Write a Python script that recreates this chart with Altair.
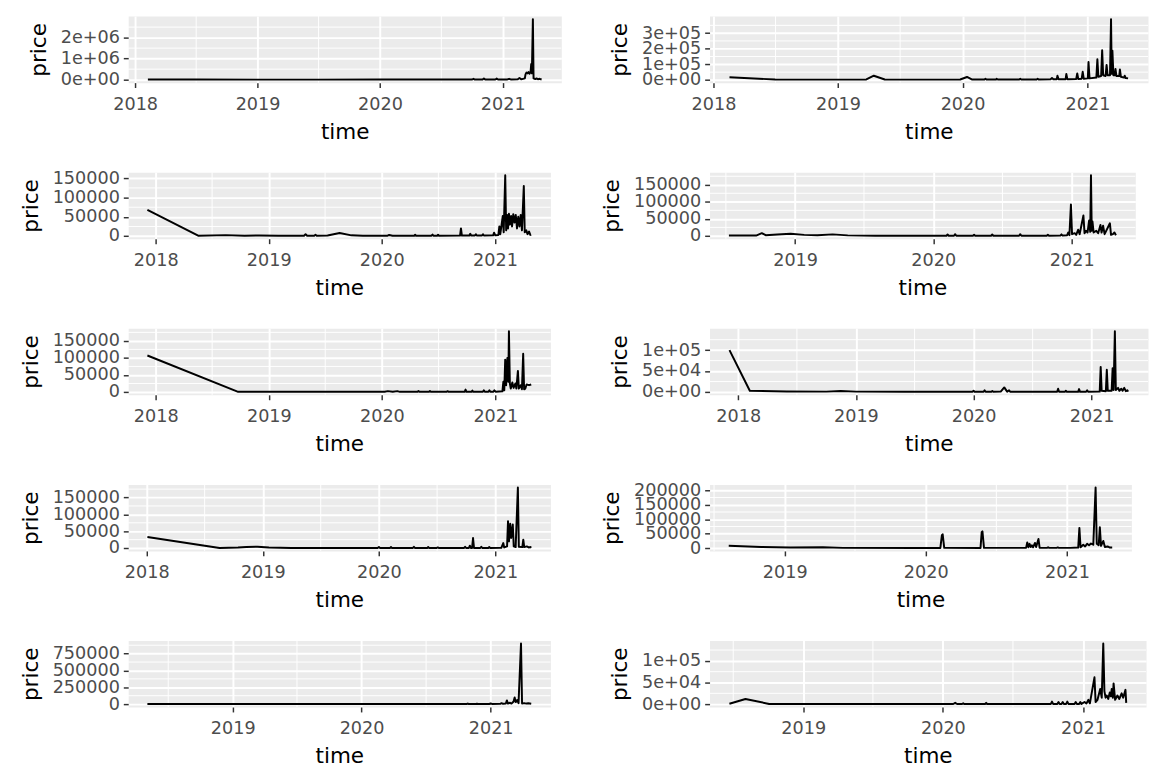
import altair as alt
import pandas as pd
from datetime import datetime, timezone

# ---------------- data ----------------
p1_dates = ["2018-02-08","2018-07-01","2019-01-01","2019-07-01","2020-01-01","2020-07-01","2020-10-01","2020-10-06","2020-10-10","2020-11-02",
            "2020-11-06","2020-11-10","2020-12-10","2020-12-14","2020-12-18","2021-01-15","2021-01-20","2021-01-25","2021-02-15","2021-02-20",
            "2021-02-25","2021-03-08","2021-03-10","2021-03-13","2021-03-16","2021-03-19","2021-03-22","2021-03-25","2021-03-27","2021-03-29",
            "2021-04-01","2021-04-03","2021-04-08","2021-04-12","2021-04-16","2021-04-21","2021-04-27"]
p1_prices = [6000,3000,2000,2000,3000,3000,4000,40000,5000,6000,
             60000,6000,8000,50000,8000,10000,40000,10000,20000,80000,
             15000,60000,250000,340000,300000,360000,280000,350000,740000,300000,
             2880000,60000,30000,60000,20000,40000,10000]

p2_dates = ["2018-02-17","2018-04-01","2018-07-01","2018-10-01","2019-01-01","2019-03-25","2019-04-16","2019-05-18","2019-09-01","2019-12-25",
            "2020-01-14","2020-01-28","2020-03-05","2020-03-08","2020-03-11","2020-04-08","2020-04-10","2020-04-13","2020-06-15","2020-06-18",
            "2020-06-21","2020-08-05","2020-08-08","2020-08-11","2020-09-15","2020-09-19","2020-09-23","2020-10-03","2020-10-05","2020-10-08",
            "2020-10-29","2020-10-31","2020-11-03","2020-11-29","2020-12-02","2020-12-05","2020-12-15","2020-12-18","2020-12-21","2021-01-02",
            "2021-01-04","2021-01-07","2021-01-27","2021-01-30","2021-02-02","2021-02-10","2021-02-13","2021-02-16","2021-02-23","2021-02-26",
            "2021-03-01","2021-03-08","2021-03-11","2021-03-13","2021-03-15","2021-03-18","2021-03-22","2021-03-24","2021-03-27","2021-04-04",
            "2021-04-06","2021-04-09","2021-04-18","2021-04-20","2021-04-23","2021-04-30"]
p2_prices = [17000,12000,3000,2000,2000,3000,27000,3000,2000,3000,
             19000,3000,3000,8000,3000,3000,7000,3000,3000,8000,
             3000,3000,8000,3000,4000,12000,4000,5000,27000,5000,
             5000,38000,5000,6000,42000,6000,8000,52000,8000,10000,
             115000,10000,15000,132000,20000,25000,190000,30000,25000,96000,
             30000,30000,390000,40000,188000,30000,30000,70000,25000,25000,
             67000,20000,15000,27000,12000,10000]

p3_dates = ["2017-12-05","2018-05-18","2018-08-15","2018-10-15","2018-12-01","2019-02-01","2019-04-25","2019-04-30","2019-05-05","2019-05-28",
            "2019-06-01","2019-06-05","2019-07-10","2019-08-18","2019-09-25","2019-11-01","2020-01-20","2020-01-25","2020-02-05","2020-04-15",
            "2020-04-18","2020-04-21","2020-06-10","2020-06-13","2020-06-16","2020-06-28","2020-07-01","2020-07-04","2020-09-10","2020-09-13",
            "2020-09-16","2020-10-10","2020-10-13","2020-10-16","2020-10-28","2020-10-31","2020-11-03","2020-11-20","2020-11-23","2020-11-26",
            "2020-12-26","2020-12-29","2021-01-02","2021-01-12","2021-01-15","2021-01-18","2021-01-22","2021-01-26","2021-01-29","2021-02-03",
            "2021-02-06","2021-02-09","2021-02-12","2021-02-15","2021-02-18","2021-02-22","2021-02-25","2021-03-01","2021-03-05","2021-03-09",
            "2021-03-13","2021-03-17","2021-03-21","2021-03-25","2021-03-29","2021-04-04","2021-04-07","2021-04-12","2021-04-16","2021-04-21",
            "2021-04-25","2021-04-28"]
p3_prices = [68000,1000,2500,1000,1500,1000,1000,5000,1000,1000,
             3500,1000,1500,8000,2000,1000,1000,3000,1000,1000,
             3500,1000,1000,4000,1000,1000,3500,1000,1500,20000,
             1500,1500,6000,1500,1500,5000,1500,1500,5000,1500,
             2000,9000,2000,3000,25000,5000,28000,52000,10000,158000,
             15000,55000,20000,58000,30000,52000,25000,57000,35000,55000,
             20000,50000,25000,55000,15000,130000,10000,15000,5000,12000,
             3000,4000]

p4_dates = ["2018-07-10","2018-09-20","2018-10-05","2018-10-15","2018-11-15","2018-12-20","2019-01-25","2019-03-01","2019-04-10","2019-05-20",
            "2019-08-01","2020-01-01","2020-02-05","2020-02-08","2020-02-11","2020-02-25","2020-02-28","2020-03-02","2020-04-15","2020-04-18",
            "2020-04-21","2020-06-02","2020-06-05","2020-06-08","2020-08-15","2020-08-18","2020-08-21","2020-10-27","2020-10-30","2020-11-02",
            "2020-12-02","2020-12-05","2020-12-08","2020-12-20","2020-12-23","2020-12-26","2020-12-30","2021-01-02","2021-01-09","2021-01-13",
            "2021-01-18","2021-01-22","2021-02-01","2021-02-04","2021-02-08","2021-02-12","2021-02-16","2021-02-19","2021-02-21","2021-02-23",
            "2021-02-25","2021-02-28","2021-03-07","2021-03-12","2021-03-18","2021-03-21","2021-03-25","2021-03-29","2021-04-12","2021-04-15",
            "2021-04-20","2021-04-24","2021-04-28"]
p4_prices = [1000,1000,8000,2000,4000,6000,3000,2000,4500,1500,
             500,500,500,4000,500,500,5000,500,500,3500,
             500,500,4000,500,500,5000,500,500,3500,500,
             1000,4500,1000,2000,10000,2000,92000,5000,8000,3000,
             18000,5000,60000,8000,15000,10000,45000,12000,178000,15000,
             42000,10000,15000,8000,32000,10000,30000,5000,37000,3000,
             5000,10000,2000]

p5_dates = ["2017-12-05","2018-09-24","2018-12-01","2019-06-01","2020-01-10","2020-01-20","2020-02-05","2020-02-20","2020-02-28","2020-04-25",
            "2020-04-28","2020-05-01","2020-06-01","2020-06-04","2020-06-07","2020-07-28","2020-07-31","2020-08-03","2020-09-24","2020-09-27",
            "2020-09-30","2020-10-16","2020-10-19","2020-10-22","2020-11-22","2020-11-25","2020-11-28","2020-12-10","2020-12-13","2020-12-16",
            "2020-12-26","2020-12-29","2021-01-02","2021-01-24","2021-01-27","2021-01-30","2021-02-02","2021-02-05","2021-02-09","2021-02-12",
            "2021-02-14","2021-02-17","2021-02-20","2021-02-25","2021-03-01","2021-03-07","2021-03-10","2021-03-15","2021-03-18","2021-03-24",
            "2021-03-28","2021-04-01","2021-04-04","2021-04-08","2021-04-12","2021-04-20","2021-04-27"]
p5_prices = [107000,500,800,500,500,2500,500,2500,500,500,
             3000,500,500,3000,500,500,2500,500,500,7000,
             500,500,4000,500,500,5000,500,500,5000,500,
             500,5000,1000,2000,30000,5000,95000,20000,100000,30000,
             178000,25000,10000,28000,12000,25000,10000,62000,10000,20000,
             8000,112000,8000,10000,22000,20000,22000]

p6_dates = ["2017-12-05","2018-02-06","2018-06-01","2018-10-01","2018-11-15","2019-01-01","2019-06-01","2019-12-28","2020-01-01","2020-01-04",
            "2020-02-01","2020-02-04","2020-02-07","2020-02-25","2020-02-28","2020-03-02","2020-03-25","2020-04-05","2020-04-14","2020-04-20",
            "2020-04-24","2020-09-16","2020-09-19","2020-09-22","2020-10-10","2020-10-13","2020-10-16","2020-11-20","2020-11-23","2020-11-26",
            "2020-12-15","2020-12-18","2020-12-21","2021-01-26","2021-01-29","2021-02-01","2021-02-14","2021-02-17","2021-02-20","2021-03-04",
            "2021-03-07","2021-03-10","2021-03-14","2021-03-17","2021-03-24","2021-03-28","2021-04-03","2021-04-07","2021-04-12","2021-04-17",
            "2021-04-22","2021-04-24"]
p6_prices = [100000,3000,1500,1000,2500,1000,500,500,3000,500,
             500,4000,500,500,2500,500,1000,11000,1000,4000,
             500,500,8000,500,500,3000,500,500,7000,500,
             500,4000,500,1000,60000,3000,2000,53000,3000,3000,
             57000,5000,145000,5000,10000,3000,8000,3000,10000,2000,
             4000,1000]

p7_dates = ["2018-01-03","2018-08-18","2018-10-15","2018-11-10","2018-12-15","2019-01-20","2019-04-01","2019-12-28","2020-01-01","2020-01-04",
            "2020-02-05","2020-02-08","2020-02-11","2020-04-17","2020-04-20","2020-04-23","2020-06-01","2020-06-04","2020-06-07","2020-07-01",
            "2020-07-04","2020-07-07","2020-09-25","2020-09-28","2020-10-01","2020-10-10","2020-10-13","2020-10-16","2020-10-20","2020-10-23",
            "2020-10-26","2020-11-15","2020-11-18","2020-11-21","2020-12-10","2020-12-13","2020-12-16","2021-01-20","2021-01-26","2021-01-29",
            "2021-02-07","2021-02-10","2021-02-13","2021-02-17","2021-02-20","2021-02-25","2021-02-28","2021-03-06","2021-03-13","2021-03-16",
            "2021-03-27","2021-03-30","2021-04-02","2021-04-10","2021-04-16","2021-04-22","2021-04-24"]
p7_prices = [33000,500,1500,3000,4000,1500,500,500,3500,500,
             500,3000,500,500,4000,500,500,3000,500,500,
             2000,500,500,4000,500,500,7000,500,500,30000,
             500,500,4000,500,500,3000,500,1000,15000,2000,
             5000,80000,20000,72000,30000,70000,5000,3000,180000,4000,
             3000,25000,3000,5000,2000,3000,1000]

p8_dates = ["2018-08-09","2018-11-01","2019-01-15","2019-04-10","2019-06-01","2019-12-01","2020-02-08","2020-02-12","2020-02-14","2020-02-18",
            "2020-05-22","2020-05-25","2020-05-27","2020-05-31","2020-09-17","2020-09-20","2020-09-23","2020-09-26","2020-09-29","2020-10-02",
            "2020-10-05","2020-10-10","2020-10-13","2020-10-19","2020-10-22","2020-11-10","2020-11-13","2020-11-16","2020-12-05","2020-12-08",
            "2020-12-11","2021-01-10","2021-01-30","2021-02-02","2021-02-05","2021-02-12","2021-02-17","2021-02-22","2021-02-27","2021-03-04",
            "2021-03-10","2021-03-16","2021-03-19","2021-03-24","2021-03-27","2021-03-30","2021-04-05","2021-04-09","2021-04-16","2021-04-22",
            "2021-04-28"]
p8_prices = [8000,4000,2000,3500,1000,800,800,45000,48000,1000,
             800,55000,58000,1000,1000,20000,3000,15000,4000,10000,
             3000,18000,4000,32000,1500,1000,3000,1000,1000,2500,
             1000,1000,2000,70000,3000,12000,6000,15000,10000,16000,
             12000,210000,15000,10000,72000,8000,25000,4000,6000,2000,
             2000]

p9_dates = ["2018-05-04","2019-01-01","2019-07-01","2020-01-01","2020-05-01","2020-08-01","2020-10-25","2020-10-28","2020-10-31","2020-11-20",
            "2020-11-23","2020-11-26","2020-12-28","2021-01-01","2021-01-05","2021-01-28","2021-02-01","2021-02-05","2021-02-13","2021-02-16",
            "2021-02-19","2021-02-25","2021-03-01","2021-03-07","2021-03-10","2021-03-13","2021-03-17","2021-03-21","2021-03-28","2021-03-31",
            "2021-04-06","2021-04-12","2021-04-18","2021-04-26"]
p9_prices = [3000,2000,1500,2000,3000,2000,2000,8000,2000,2000,
             6000,2000,2000,10000,3000,4000,15000,5000,10000,55000,
             8000,20000,8000,40000,100000,30000,60000,15000,900000,10000,
             15000,8000,12000,5000]

p10_dates = ["2018-06-22","2018-08-03","2018-10-04","2019-03-01","2019-10-01","2020-01-28","2020-02-02","2020-02-07","2020-02-20","2020-02-23",
             "2020-02-26","2020-04-20","2020-04-23","2020-04-26","2020-10-09","2020-10-12","2020-10-15","2020-10-26","2020-10-29","2020-11-01",
             "2020-11-06","2020-11-09","2020-11-12","2020-11-18","2020-11-21","2020-11-24","2020-12-10","2020-12-13","2020-12-16","2020-12-22",
             "2020-12-25","2020-12-28","2021-01-05","2021-01-10","2021-01-15","2021-01-19","2021-01-31","2021-02-03","2021-02-08","2021-02-15",
             "2021-02-19","2021-02-23","2021-02-26","2021-03-01","2021-03-04","2021-03-08","2021-03-12","2021-03-15","2021-03-17","2021-03-20",
             "2021-03-22","2021-03-26","2021-04-01","2021-04-06","2021-04-12","2021-04-16","2021-04-22","2021-04-24"]
p10_prices = [1000,12000,500,300,300,300,3000,300,300,2000,
              300,300,3000,300,500,6000,500,500,5000,500,
              500,5000,500,500,6000,500,500,5000,500,500,
              5000,500,5000,1500,10000,2000,62000,5000,10000,35000,
              15000,140000,30000,15000,20000,12000,27000,18000,35000,15000,
              48000,10000,20000,12000,25000,15000,33000,3000]

# y-axis breaks (major) and minor grid values
ticks_2e6 = [0, 1000000, 2000000]
minor_2e6 = [500000, 1500000, 2500000]
ticks_3e5 = [0, 100000, 200000, 300000]
minor_3e5 = [50000, 150000, 250000, 350000]
ticks_150k = [0, 50000, 100000, 150000]
minor_150k = [25000, 75000, 125000, 175000]
ticks_1e5 = [0, 50000, 100000]
minor_1e5 = [25000, 75000, 125000]
ticks_200k = [0, 50000, 100000, 150000, 200000]
minor_200k = [25000, 75000, 125000, 175000, 225000]
ticks_750k = [0, 250000, 500000, 750000]
minor_750k = [125000, 375000, 625000, 875000]

# x-axis breaks (years) and minor (mid-year)
year_breaks = ["2018-01-01", "2019-01-01", "2020-01-01", "2021-01-01", "2022-01-01"]
mid_breaks = ["2017-07-02", "2018-07-02", "2019-07-02", "2020-07-02", "2021-07-02"]

FONT = "DejaVu Sans"
BG = "#EBEBEB"
SCI = "replace(format(datum.value, '.0e'), 'e+', 'e+0')"
INT = "format(datum.value, 'd')"
PANEL_H = 68

# layout (pixel positions of the panel areas)
LEFT_COL_RIGHT = 561
RIGHT_COL_RIGHT = 1143
left_starts = [118.5, 129.6, 129.6, 129.6, 129.6]
right_starts = [695, 708, 695, 712, 697]


def ms(s):
    return datetime.strptime(s, "%Y-%m-%d").replace(tzinfo=timezone.utc).timestamp() * 1000.0


def make_panel(dates, prices, yticks, yminor, sci, width):
    assert len(dates) == len(prices), (len(dates), len(prices))
    df = pd.DataFrame({"time": dates, "price": prices})
    t = [ms(d) for d in dates]
    span = max(t) - min(t)
    xdom = [min(t) - 0.05 * span, max(t) + 0.05 * span]
    yr = max(prices) - min(prices)
    ydom = [min(prices) - 0.05 * yr, max(prices) + 0.05 * yr]
    xmaj = [ms(y) for y in year_breaks if xdom[0] <= ms(y) <= xdom[1]]
    xmin_ = [d for d in mid_breaks if xdom[0] <= ms(d) <= xdom[1]]
    ymaj = [v for v in yticks if ydom[0] <= v <= ydom[1]]
    ymin_ = [v for v in yminor if ydom[0] <= v <= ydom[1]]

    common = dict(
        grid=True, gridColor="white", gridWidth=2, domain=False,
        tickSize=5, tickColor="#333333", tickWidth=1.5,
        labelFont=FONT, labelFontSize=18, labelColor="#4D4D4D",
        labelFlush=False, labelOverlap=False,
        titleFont=FONT, titleFontSize=22, titleColor="black", titleFontWeight="normal",
    )
    xa = alt.Axis(values=xmaj, labelExpr="utcFormat(datum.value, '%Y')", title="time",
                  labelPadding=8, titlePadding=9, **common)
    ya = alt.Axis(values=ymaj, labelExpr=SCI if sci else INT, title="price",
                  labelPadding=4, titlePadding=10, **common)
    xs = alt.Scale(type="utc", domain=xdom, nice=False)
    ys = alt.Scale(domain=ydom, nice=False, zero=False)
    X = alt.X("time:T", scale=xs, axis=xa)
    Y = alt.Y("price:Q", scale=ys, axis=ya)

    vgrid = alt.Chart(pd.DataFrame({"time": xmin_})).mark_rule(color="white", strokeWidth=1).encode(x=X)
    hgrid = alt.Chart(pd.DataFrame({"price": ymin_})).mark_rule(color="white", strokeWidth=1).encode(y=Y)
    line = alt.Chart(df).mark_line(color="black", strokeWidth=2, strokeJoin="round").encode(x=X, y=Y)
    return alt.layer(vgrid, hgrid, line).properties(
        width=width, height=PANEL_H,
        view=alt.ViewBackground(fill=BG, stroke="transparent"),
    )


def spacer(w):
    return alt.Chart(pd.DataFrame({"a": [0]})).mark_rule(opacity=0).encode(
        x=alt.value(0), y=alt.value(0), y2=alt.value(1)
    ).properties(width=w, height=1, view=alt.ViewBackground(fill="transparent", stroke="transparent"))


series = [
    (p1_dates, p1_prices, ticks_2e6, minor_2e6, True),
    (p2_dates, p2_prices, ticks_3e5, minor_3e5, True),
    (p3_dates, p3_prices, ticks_150k, minor_150k, False),
    (p4_dates, p4_prices, ticks_150k, minor_150k, False),
    (p5_dates, p5_prices, ticks_150k, minor_150k, False),
    (p6_dates, p6_prices, ticks_1e5, minor_1e5, True),
    (p7_dates, p7_prices, ticks_150k, minor_150k, False),
    (p8_dates, p8_prices, ticks_200k, minor_200k, False),
    (p9_dates, p9_prices, ticks_750k, minor_750k, False),
    (p10_dates, p10_prices, ticks_1e5, minor_1e5, True),
]

items = []
for r in range(5):
    L, R = left_starts[r], right_starts[r]
    dl, pl, tl, ml, sl = series[2 * r]
    dr, pr, tr, mr, sr = series[2 * r + 1]
    items.append(spacer(L))
    items.append(make_panel(dl, pl, tl, ml, sl, LEFT_COL_RIGHT - L))
    items.append(spacer(R - LEFT_COL_RIGHT))
    items.append(make_panel(dr, pr, tr, mr, sr, RIGHT_COL_RIGHT - R))

chart = alt.concat(
    *items, columns=4,
    spacing={"row": 91.5, "column": 0},
    bounds="flush",
    align={"row": "all", "column": "none"},
).properties(
    padding={"left": 0, "top": 7, "right": 0, "bottom": 0}
).configure(font=FONT)

chart.save("out.html", embed_options={"renderer": "svg", "actions": False})
